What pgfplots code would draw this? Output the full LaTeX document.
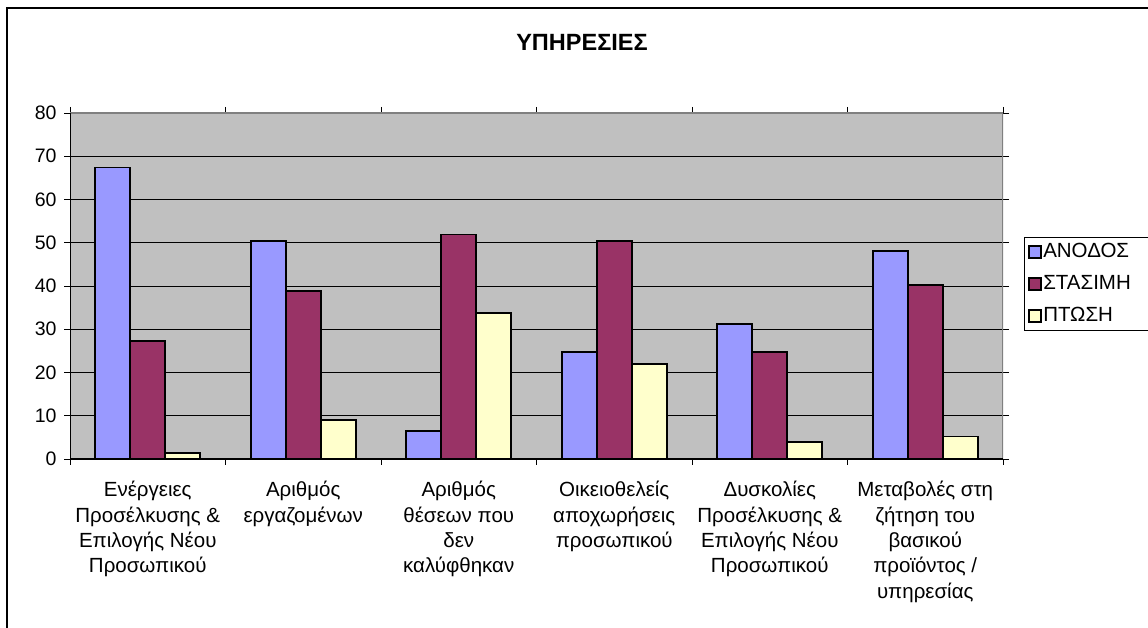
\documentclass[border=0pt]{standalone}
\usepackage{fontspec}
\setmainfont{Liberation Sans}
\usepackage{pgfplots}
\pgfplotsset{compat=1.18}
\definecolor{cA}{HTML}{9999FF}
\definecolor{cB}{HTML}{993366}
\definecolor{cC}{HTML}{FFFFCC}
\definecolor{bgc}{HTML}{C0C0C0}
\definecolor{brd}{HTML}{808080}
\begin{document}
\begin{tikzpicture}[x=1pt,y=1pt]
\path[use as bounding box] (0,0) rectangle (1148,628);
\draw[line width=1.2pt] (7,-5) -- (7,620) -- (1155,620);
\node[font=\bfseries\fontsize{23.5}{28}\selectfont] at (582,586) {ΥΠΗΡΕΣΙΕΣ};
\begin{axis}[
  at={(70pt,169pt)}, anchor=south west, scale only axis,
  width=933pt, height=346pt,
  ybar=0pt, bar width=35pt,
  xmin=-0.5, xmax=5.5, ymin=0, ymax=80,
  xtick={0,1,2,3,4,5},
  xticklabels={
    {Ενέργειες\\Προσέλκυσης \&\\Επιλογής Νέου\\Προσωπικού},
    {Αριθμός\\εργαζομένων},
    {Αριθμός\\θέσεων που\\δεν\\καλύφθηκαν},
    {Οικειοθελείς\\αποχωρήσεις\\προσωπικού},
    {Δυσκολίες\\Προσέλκυσης \&\\Επιλογής Νέου\\Προσωπικού},
    {Μεταβολές στη\\ζήτηση του\\βασικού\\προϊόντος /\\υπηρεσίας}},
  major x tick style={draw=none},
  minor xtick={-0.5,0.5,1.5,2.5,3.5,4.5,5.5},
  tick align=outside, major tick length=6pt, minor tick length=6pt,
  ytick={0,10,...,80},
  ymajorgrids, grid style={black, line width=0.9pt},
  axis background/.style={fill=bgc},
  axis line style={draw=none},
  tick style={black, line width=0.9pt},
  xticklabel style={align=center, font=\fontsize{20.5}{25.3}\selectfont, yshift=-13pt},
  yticklabel style={font=\fontsize{19.5}{23}\selectfont, xshift=-4pt},
  /pgf/number format/assume math mode=true,
  legend style={draw=black, fill=white, line width=0.9pt, at={(1.0225,0.6416)}, anchor=north west,
    font=\fontsize{20.5}{24}\selectfont, inner xsep=4pt, inner ysep=4pt, row sep=11pt,
    nodes={inner sep=1pt, text height=15pt, text depth=4pt}, cells={anchor=west}},
  legend image code/.code={\draw[#1, line width=1.8pt] (0pt,-6pt) rectangle (12pt,6pt);},
]
\addplot[fill=cA, draw=black, line width=1.9pt] coordinates {(0,67.4) (1,50.5) (2,6.5) (3,24.7) (4,31.2) (5,48.0)};
\addplot[fill=cB, draw=black, line width=1.9pt] coordinates {(0,27.3) (1,38.9) (2,51.9) (3,50.5) (4,24.7) (5,40.2)};
\addplot[fill=cC, draw=black, line width=1.9pt] coordinates {(0,1.3) (1,9.0) (2,33.7) (3,22.0) (4,3.9) (5,5.2)};
\draw[brd, line width=1.4pt] (rel axis cs:0,1) -- (rel axis cs:1,1) -- (rel axis cs:1,0);
\draw[black, line width=1.1pt] (rel axis cs:0,1) -- (rel axis cs:0,0) -- (rel axis cs:1,0);
\legend{ΑΝΟΔΟΣ\hspace*{30pt},ΣΤΑΣΙΜΗ,ΠΤΩΣΗ}
\end{axis}
\end{tikzpicture}
\end{document}
